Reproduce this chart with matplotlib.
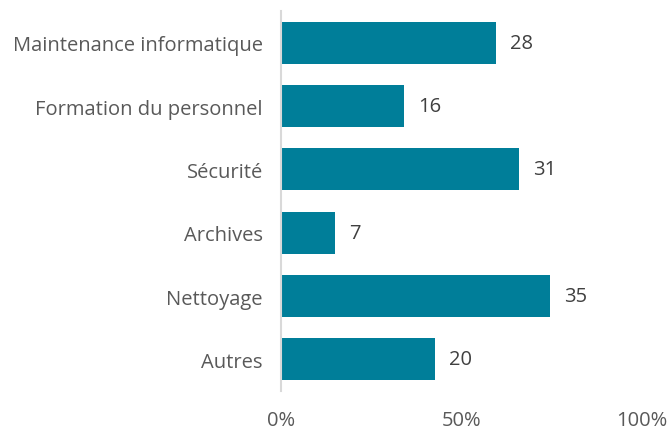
import matplotlib
matplotlib.use('Agg')
import matplotlib.pyplot as plt
from matplotlib.ticker import PercentFormatter

plt.rcParams['font.family'] = ['Open Sans', 'DejaVu Sans']

categories = ['Maintenance informatique', 'Formation du personnel', 'Sécurité',
              'Archives', 'Nettoyage', 'Autres']
counts = [28, 16, 31, 7, 35, 20]
total = 47
shares = [c / total * 100 for c in counts]

bar_color = '#007E99'

fig = plt.figure(figsize=(6.72, 4.27), dpi=100)
ax = fig.add_axes([281/672, 1 - 392/427, (642 - 281)/672, 380/427])

ypos = list(range(len(categories)))
ax.barh(ypos, shares, height=0.66, color=bar_color)
for y, s, c in zip(ypos, shares, counts):
    ax.annotate(str(c), (s, y), xytext=(10, 0), textcoords='offset points',
                va='center', ha='left', fontsize=14.5, color='#404040')

ax.set_xlim(0, 100)
ax.set_ylim(len(categories) - 0.5, -0.5)
ax.set_yticks(ypos)
ax.set_yticklabels(categories)
ax.set_xticks([0, 50, 100])
ax.xaxis.set_major_formatter(PercentFormatter(decimals=0))
ax.tick_params(axis='y', length=0, pad=13, labelsize=14.5, labelcolor='#595959')
ax.tick_params(axis='x', length=0, pad=14, labelsize=14.5, labelcolor='#595959')

for side in ['top', 'right', 'bottom']:
    ax.spines[side].set_visible(False)
ax.spines['left'].set_color('#d9d9d9')
ax.spines['left'].set_linewidth(1.5)

fig.savefig('out.png', dpi=100)
